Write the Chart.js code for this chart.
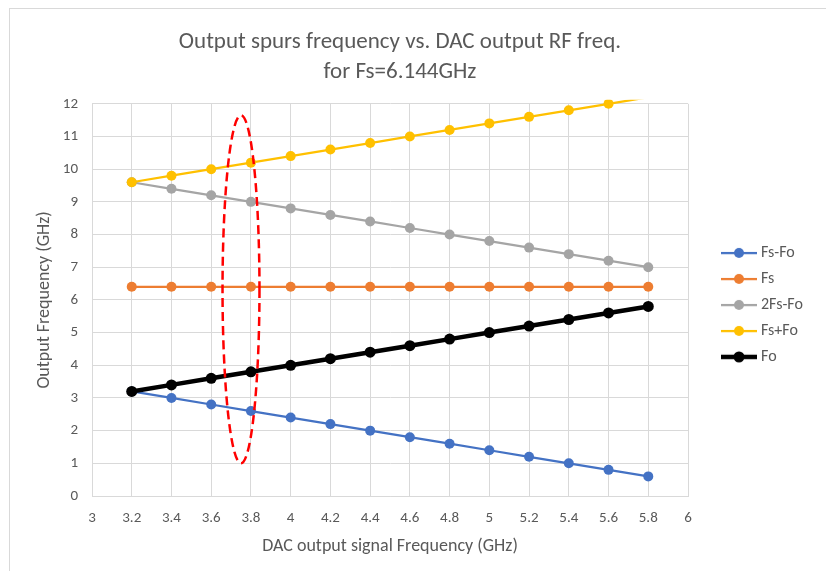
<!DOCTYPE html>
<html>
<head>
<meta charset="utf-8">
<title>Output spurs frequency vs. DAC output RF freq.</title>
<script src="https://cdn.jsdelivr.net/npm/chart.js@4.4.1/dist/chart.umd.min.js"></script>
<style>
    html, body { margin: 0; padding: 0; background: #ffffff; }
    #wrap { position: relative; width: 826px; height: 571px; overflow: hidden; }
    #frame {
        position: absolute; left: 9px; top: 8px; right: -4px; bottom: -4px;
        border-left: 1px solid #d9d9d9; border-top: 1px solid #d9d9d9;
    }
    #chart { position: absolute; left: 0; top: 0; }
</style>
</head>
<body>
<div id="wrap">
    <div id="frame"></div>
    <canvas id="chart" width="826" height="571"></canvas>
</div>
<script>
// data
const freqValues = [3.2, 3.4, 3.6, 3.8, 4.0, 4.2, 4.4, 4.6, 4.8, 5.0, 5.2, 5.4, 5.6, 5.8];
const fsMinusFo = [3.2, 3.0, 2.8, 2.6, 2.4, 2.2, 2.0, 1.8, 1.6, 1.4, 1.2, 1.0, 0.8, 0.6];
const fsLine = [6.4, 6.4, 6.4, 6.4, 6.4, 6.4, 6.4, 6.4, 6.4, 6.4, 6.4, 6.4, 6.4, 6.4];
const twoFsMinusFo = [9.6, 9.4, 9.2, 9.0, 8.8, 8.6, 8.4, 8.2, 8.0, 7.8, 7.6, 7.4, 7.2, 7.0];
const fsPlusFo = [9.6, 9.8, 10.0, 10.2, 10.4, 10.6, 10.8, 11.0, 11.2, 11.4, 11.6, 11.8, 12.0, 12.2];
const foLine = [3.2, 3.4, 3.6, 3.8, 4.0, 4.2, 4.4, 4.6, 4.8, 5.0, 5.2, 5.4, 5.6, 5.8];

const seriesNames = ['Fs-Fo', 'Fs', '2Fs-Fo', 'Fs+Fo', 'Fo'];
const seriesValues = [fsMinusFo, fsLine, twoFsMinusFo, fsPlusFo, foLine];
const seriesColors = ['#4472C4', '#ED7D31', '#A5A5A5', '#FFC000', '#000000'];

const xTickLabels = ['3', '3.2', '3.4', '3.6', '3.8', '4', '4.2', '4.4', '4.6', '4.8', '5', '5.2', '5.4', '5.6', '5.8', '6'];
const yTickLabels = ['0', '1', '2', '3', '4', '5', '6', '7', '8', '9', '10', '11', '12'];

const chartTitle = ['Output spurs frequency vs. DAC output RF freq.', 'for Fs=6.144GHz'];
const xAxisTitle = 'DAC output signal Frequency (GHz)';
const yAxisTitle = 'Output Frequency (GHz)';

// red dashed marker around the 3.6 - 3.8 GHz column
const markerEllipse = { x: 3.75, halfWidth: 0.093, yTop: 11.65, yBottom: 1.0 };

const textColor = '#595959';
const gridColor = '#d9d9d9';
const fontFamily = 'Carlito, Lato, "Open Sans", sans-serif';

function lineWidthFor(i) { return i === 4 ? 4.5 : 2.25; }
function radiusFor(i) { return i === 4 ? 5.5 : 5; }

// legend swatch: a short line with a marker in the middle
function makeSwatch(color, lineWidth, radius) {
    const c = document.createElement('canvas');
    c.width = 65;
    c.height = 14;
    const g = c.getContext('2d');
    g.strokeStyle = color;
    g.lineWidth = lineWidth;
    g.beginPath();
    g.moveTo(28, 7);
    g.lineTo(64, 7);
    g.stroke();
    g.fillStyle = color;
    g.beginPath();
    g.arc(46, 7, radius, 0, Math.PI * 2);
    g.fill();
    return c;
}
const swatches = seriesColors.map((c, i) => makeSwatch(c, lineWidthFor(i), radiusFor(i)));

const ellipsePlugin = {
    id: 'markerEllipse',
    afterDatasetsDraw(chart) {
        const { ctx, scales: { x, y } } = chart;
        const cx = x.getPixelForValue(markerEllipse.x);
        const rx = x.getPixelForValue(markerEllipse.x + markerEllipse.halfWidth) - cx;
        const top = y.getPixelForValue(markerEllipse.yTop);
        const bottom = y.getPixelForValue(markerEllipse.yBottom);
        ctx.save();
        ctx.beginPath();
        ctx.ellipse(cx, (top + bottom) / 2, rx, (bottom - top) / 2, 0, 0, Math.PI * 2);
        ctx.setLineDash([9, 5]);
        ctx.lineWidth = 2.5;
        ctx.strokeStyle = '#FF0000';
        ctx.stroke();
        ctx.restore();
    }
};

const datasets = seriesNames.map((name, i) => ({
    label: name,
    data: freqValues.map((f, k) => ({ x: f, y: seriesValues[i][k] })),
    borderColor: seriesColors[i],
    backgroundColor: seriesColors[i],
    pointBackgroundColor: seriesColors[i],
    pointBorderColor: seriesColors[i],
    borderWidth: lineWidthFor(i),
    pointRadius: (ctx) => (ctx.parsed && ctx.parsed.y > 12 ? 0 : radiusFor(i)),
    pointBorderWidth: 0,
    tension: 0,
    clip: { left: 10, right: 10, top: 4, bottom: 10 },
    order: seriesNames.length - i
}));

new Chart(document.getElementById('chart'), {
    type: 'line',
    data: { datasets },
    options: {
        responsive: false,
        devicePixelRatio: 1,
        animation: false,
        layout: { padding: { left: -6, right: 20, top: 0, bottom: 0 } },
        plugins: {
            title: {
                display: true,
                text: chartTitle,
                color: textColor,
                font: { family: fontFamily, size: 23, weight: 'normal', lineHeight: 1.3 },
                padding: { top: 27, bottom: 17 }
            },
            legend: {
                position: 'right',
                fullSize: false,
                maxWidth: 118,
                title: { display: true, text: '', font: { size: 1, lineHeight: 1 }, padding: { top: 5, bottom: 4 } },
                labels: {
                    usePointStyle: true,
                    pointStyleWidth: 55,
                    padding: 10,
                    color: textColor,
                    font: { family: fontFamily, size: 16 },
                    sort: (a, b) => a.datasetIndex - b.datasetIndex,
                    generateLabels(chart) {
                        const items = Chart.defaults.plugins.legend.labels.generateLabels(chart);
                        items.forEach(item => {
                            item.pointStyle = swatches[item.datasetIndex];
                            item.fontColor = textColor;
                        });
                        return items;
                    }
                }
            },
            tooltip: { enabled: false }
        },
        scales: {
            x: {
                type: 'linear',
                min: 3,
                max: 6,
                afterFit(scale) { scale.height = 75; },
                ticks: {
                    stepSize: 0.2,
                    padding: 13,
                    color: textColor,
                    font: { family: fontFamily, size: 15 },
                    maxRotation: 0,
                    autoSkip: false,
                    callback: (value, index) => xTickLabels[index]
                },
                grid: { color: gridColor, lineWidth: 1, drawTicks: false },
                border: { color: gridColor, width: 1 },
                title: {
                    display: true,
                    text: xAxisTitle,
                    color: textColor,
                    font: { family: fontFamily, size: 18 },
                    padding: { top: 8, bottom: 14 }
                }
            },
            y: {
                min: 0,
                max: 12,
                afterFit(scale) { scale.width = 98; },
                ticks: {
                    stepSize: 1,
                    padding: 14,
                    color: textColor,
                    font: { family: fontFamily, size: 15 },
                    callback: (value, index) => yTickLabels[index]
                },
                grid: { color: gridColor, lineWidth: 1, drawTicks: false },
                border: { color: gridColor, width: 1 },
                title: {
                    display: true,
                    text: yAxisTitle,
                    color: textColor,
                    font: { family: fontFamily, size: 18 },
                    padding: { top: 40, bottom: 0 }
                }
            }
        }
    },
    plugins: [ellipsePlugin]
});
</script>
</body>
</html>
